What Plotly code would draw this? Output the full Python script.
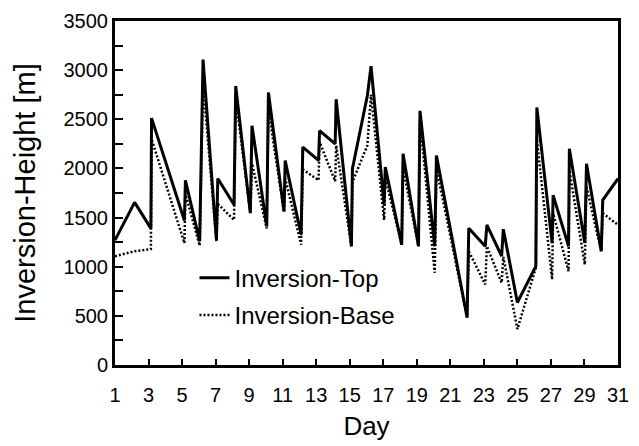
import plotly.graph_objects as go

# Sounding times (day of month) and inversion heights in metres
day = [1.0, 2.17, 3.14, 3.18, 5.14, 5.2, 6.05, 6.25, 7.05, 7.13, 8.1, 8.2,
       9.07, 9.17, 10.05, 10.15, 11.08, 11.15, 12.1, 12.2, 13.14, 13.2,
       14.13, 14.19, 15.1, 15.16, 16.05, 16.27, 17.05, 17.12, 18.1, 18.18,
       19.1, 19.19, 20.07, 20.17, 22.0, 22.1, 23.08, 23.18, 24.06, 24.16,
       25.0, 26.1, 26.16, 27.07, 27.13, 28.05, 28.1, 29.02, 29.12, 30.0,
       30.09, 31.0]

inversion_top = [1270, 1655, 1390, 2512, 1470, 1880, 1260, 3108, 1270, 1897,
                 1630, 2838, 1545, 2435, 1410, 2772, 1560, 2080, 1325, 2217,
                 2082, 2384, 2250, 2704, 1208, 1998, 2740, 3040, 1628, 2015,
                 1224, 2150, 1208, 2586, 1208, 2132, 484, 1392, 1208, 1426,
                 1107, 1382, 636, 1006, 2620, 1241, 1728, 1208, 2200, 1241,
                 2048, 1157, 1678, 1897]

inversion_base = [1107, 1157, 1180, 2300, 1241, 1745, 1214, 2875, 1258, 1640,
                  1476, 2721, 1550, 2050, 1390, 2600, 1560, 1900, 1224, 1990,
                  1880, 2270, 1870, 2233, 1208, 1860, 2233, 2750, 1476, 1900,
                  1224, 2000, 1208, 2500, 938, 2000, 484, 1157, 820, 1208,
                  837, 1100, 366, 989, 2300, 871, 1544, 955, 1981, 1022,
                  1813, 1157, 1544, 1426]

x_ticks = list(range(1, 32, 2))
y_ticks = list(range(0, 3501, 500))

FONT = "Liberation Sans, Arial, sans-serif"

fig = go.Figure()
fig.add_trace(go.Scatter(
    x=day, y=inversion_top, mode="lines", name="Inversion-Top",
    line=dict(color="black", width=3), legendgroup="top",
))
fig.add_trace(go.Scatter(
    x=day, y=inversion_base, mode="lines", name="Inversion-Base",
    line=dict(color="black", width=2.5, dash="2px,2px"), legendgroup="base",
))

axis_common = dict(
    showline=True, linecolor="black", linewidth=3, mirror=True,
    ticks="inside", tickcolor="black", tickwidth=2,
    showgrid=False, zeroline=False,
    tickfont=dict(family=FONT, size=20, color="black"),
)

fig.update_xaxes(
    range=[1, 31], tickvals=x_ticks, ticklen=6, ticklabelstandoff=10,
    title=dict(text="Day", font=dict(family=FONT, size=26, color="black"),
               standoff=12),
    **axis_common,
)
fig.update_yaxes(
    range=[0, 3500], tickvals=y_ticks, ticklen=8,
    minor=dict(dtick=250, ticks="inside", ticklen=8, tickcolor="black",
               tickwidth=2),
    title=dict(text="Inversion-Height [m]",
               font=dict(family=FONT, size=29, color="black"), standoff=20),
    **axis_common,
)

fig.update_layout(
    width=639, height=446,
    margin=dict(l=115, r=10, t=21, b=78),
    paper_bgcolor="white", plot_bgcolor="white",
    showlegend=True,
    legend=dict(
        x=0.158, y=0.318, xanchor="left", yanchor="top",
        bgcolor="rgba(0,0,0,0)", borderwidth=0,
        font=dict(family=FONT, size=24, color="black"),
        itemwidth=30, tracegroupgap=3,
    ),
)

fig.write_html("out.html")
